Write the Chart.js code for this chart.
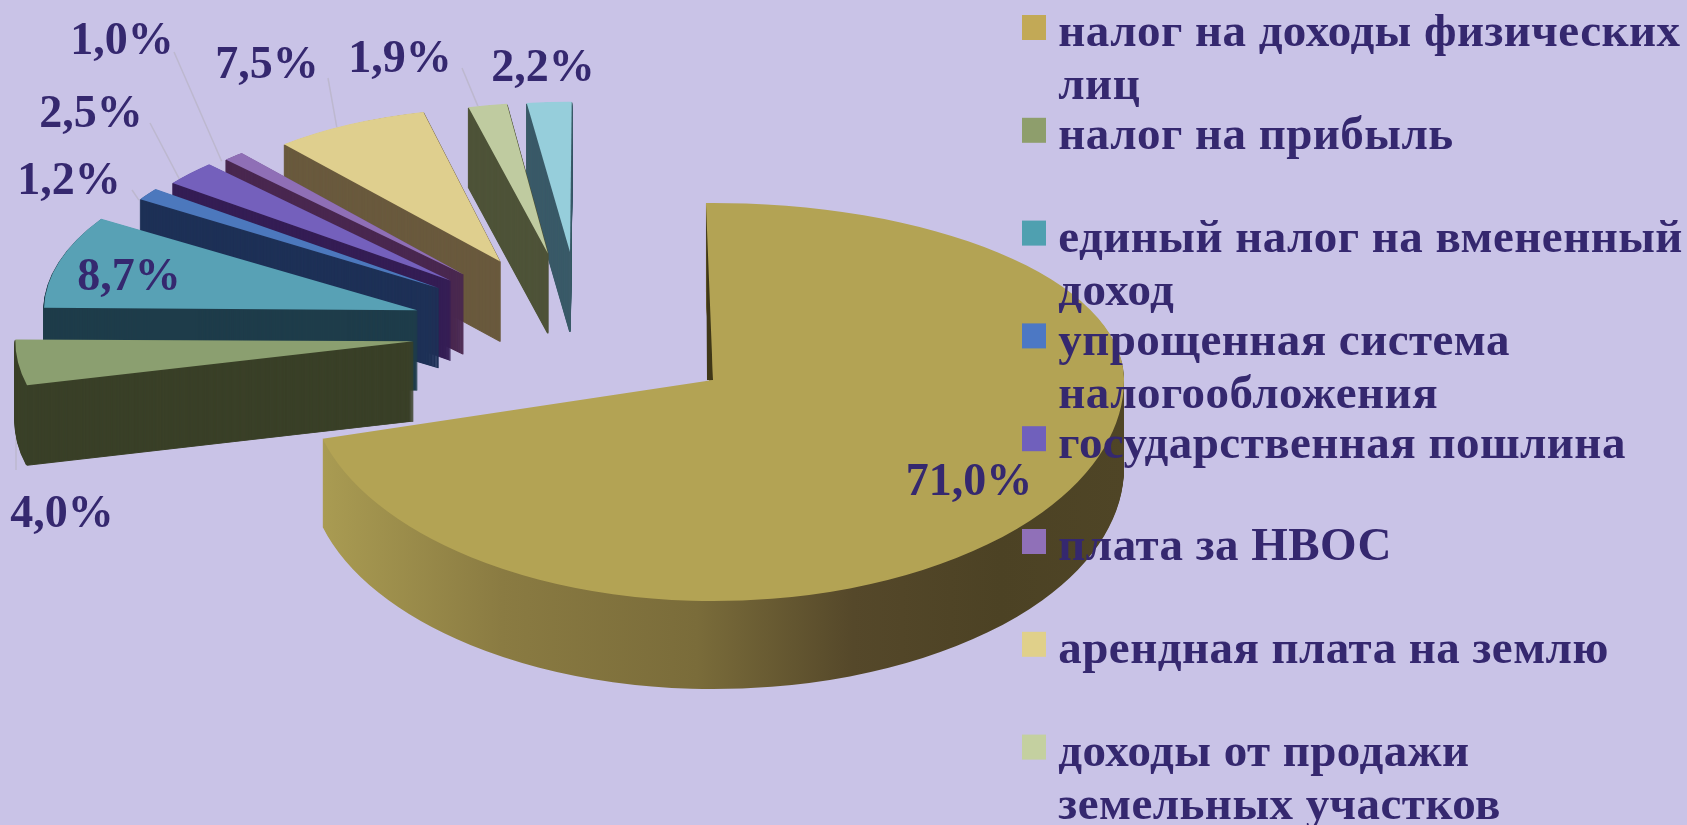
<!DOCTYPE html>
<html>
<head>
<meta charset="utf-8">
<title>Налоговые доходы</title>
<script src="https://cdn.jsdelivr.net/npm/chart.js@4"></script>
<style>
  html, body { margin: 0; background: #c9c3e7; overflow: hidden; }
  canvas { display: block; filter: blur(0.6px); }
</style>
</head>
<body>
<canvas id="pie" width="1687" height="825"></canvas>
<script>
// подписи легенды, по две строки как на слайде
const categories = [
  ["налог на доходы физических", "лиц"],
  ["налог на прибыль", ""],
  ["единый налог на вмененный", "доход"],
  ["упрощенная система", "налогообложения"],
  ["государственная пошлина", ""],
  ["плата за НВОС", ""],
  ["арендная плата на землю", ""],
  ["доходы от продажи", "земельных участков"],
  ["прочие", ""]
];
const shares = [71.0, 4.0, 8.7, 1.2, 2.5, 1.0, 7.5, 1.9, 2.2];
const shareLabels = ["71,0%", "4,0%", "8,7%", "1,2%", "2,5%", "1,0%", "7,5%", "1,9%", "2,2%"];
const legendCount = 8; // девятая строка на слайд не поместилась

const topColors = ["#b3a354", "#8b9f70", "#58a1b5", "#4c78bd", "#7460bc", "#8f6fb6", "#dfcf8e", "#bfcba0", "#96cedb"];
const sideColors = ["#7a6c3a", "#3a4028", "#1f3d4b", "#1e3157", "#351e55", "#4a2850", "#6a5a3e", "#4e5338", "#3a5a68"];
const boxColors = ["#c2a956", "#8e9e6c", "#4fa0b0", "#4c78c4", "#7060bc", "#9070b8", "#e0d08a", "#c4d0a0", "#96cedb"];

// подписи процентов: центр текста и излом выноски (null - без выноски)
const labelPos = [[969, 483], [62, 515], [129, 278], [69, 182], [91, 115], [122, 42], [267, 66], [400, 60], [543, 69]];
const leaderStart = [null, [16, 470], null, [132, 190], [150, 123], [174, 52], [328, 78], [462, 68], null];

const TEXT = "#35286f";
const BIG = { x: 713, y: 380, left: 405, right: 411, up: 177, down: 221, depth: 88 };
const GROUP = { x: 585, y: 330, kx: 173.5, ky: 78.4, depth: 80 };

function withColor(arc, color, border, fn) {
  const saved = arc.options;
  arc.options = Object.create(saved);
  arc.options.backgroundColor = color;
  arc.options.borderColor = color;
  arc.options.borderWidth = border;
  fn();
  arc.options = saved;
}

// большой сектор: четверти эллипса с разными радиусами дают перспективу
function paintBig(ctx, arc, color, dy) {
  const quarters = [[-1, -1, BIG.left, BIG.up], [1, -1, BIG.right, BIG.up], [-1, 1, BIG.left, BIG.down], [1, 1, BIG.right, BIG.down]];
  withColor(arc, color, 0, () => {
    quarters.forEach(([sx, sy, rx, ry]) => {
      ctx.save();
      ctx.beginPath();
      ctx.rect(sx < 0 ? 0 : BIG.x - 0.5, sy < 0 ? 0 : BIG.y + dy - 0.5, sx < 0 ? BIG.x + 0.5 : 1687, sy < 0 ? BIG.y + dy + 0.5 : 825);
      ctx.clip();
      ctx.translate(BIG.x, BIG.y + dy);
      ctx.scale(rx / arc.outerRadius, ry / arc.outerRadius);
      ctx.translate(-arc.x, -arc.y);
      arc.draw(ctx);
      ctx.restore();
    });
  });
}

// тёмная щель вдоль начального ребра большого сектора
function paintGap(ctx, arc) {
  const start = arc.startAngle;
  arc.startAngle = start + 0.015;
  withColor(arc, "#3f3717", 0, () => {
    ctx.save();
    ctx.beginPath();
    ctx.rect(0, 0, BIG.x + 1, BIG.y);
    ctx.clip();
    ctx.translate(BIG.x - 6, BIG.y);
    ctx.scale(BIG.left / arc.outerRadius, BIG.up / arc.outerRadius);
    ctx.translate(-arc.x, -arc.y);
    arc.draw(ctx);
    ctx.restore();
  });
  arc.startAngle = start;
}

// вершина вынесенного сектора и его радиусы
function groupPlace(arc) {
  const mid = (arc.startAngle + arc.endAngle) / 2;
  const x = GROUP.x + Math.cos(mid) * GROUP.kx;
  const y = GROUP.y + Math.sin(mid) * GROUP.ky;
  const rx = 325 + (y - 250) * 0.8;
  return { x, y, rx, ry: rx * 0.46, mid };
}

function paintSmall(ctx, arc, color, dy, border) {
  const p = groupPlace(arc);
  withColor(arc, color, border, () => {
    ctx.save();
    ctx.translate(p.x, p.y + dy);
    ctx.scale(p.rx / arc.outerRadius, p.ry / arc.outerRadius);
    // диагональные секторы в перспективе чуть довёрнуты
    ctx.rotate(0.0175 + 0.03 * Math.abs(Math.sin(2 * p.mid)));
    ctx.translate(-arc.x, -arc.y);
    arc.draw(ctx);
    ctx.restore();
  });
}

function paintLeaders(ctx, arcs) {
  ctx.save();
  ctx.strokeStyle = "#bdb8cf";
  ctx.lineWidth = 1.5;
  leaderStart.forEach((from, i) => {
    if (!from) return;
    const p = groupPlace(arcs[i]);
    ctx.beginPath();
    ctx.moveTo(from[0], from[1]);
    if (i === 1) ctx.lineTo(from[0], 387);
    else ctx.lineTo(p.x + Math.cos(p.mid) * p.rx, p.y + Math.sin(p.mid) * p.ry);
    ctx.stroke();
  });
  ctx.restore();
}

const pie3d = {
  id: "pie3d",
  afterLayout(chart) {
    const legend = chart.legend;
    legend.left = 1037;
    legend.top = 14;
    legend.bottom = 900;
    legend.right = 1687;
  },
  beforeDraw(chart) {
    const ctx = chart.ctx;
    const arcs = chart.getDatasetMeta(0).data;

    paintLeaders(ctx, arcs);

    for (let i = arcs.length - 1; i > 0; i--) {
      for (let d = GROUP.depth; d > 0; d--) paintSmall(ctx, arcs[i], sideColors[i], d, 2);
      paintSmall(ctx, arcs[i], topColors[i], 0, 0);
    }

    const big = arcs[0];
    const R = big.outerRadius;
    const rim = ctx.createLinearGradient(big.x - R, 0, big.x + R, 0);
    rim.addColorStop(0.02, "#a99b52");
    rim.addColorStop(0.24, "#8a7b42");
    rim.addColorStop(0.48, "#7a6c3a");
    rim.addColorStop(0.67, "#55482a");
    rim.addColorStop(0.85, "#4c4224");
    rim.addColorStop(1, "#4f4526");
    for (let d = BIG.depth; d > 0; d--) paintBig(ctx, big, rim, d);

    paintGap(ctx, big);
    paintBig(ctx, big, topColors[0], 0);

    // квадратики легенды лежат поверх пирога
    boxColors.slice(0, legendCount).forEach((c, i) => {
      ctx.fillStyle = c;
      ctx.fillRect(1022, 15 + i * 102.8, 24, 25);
    });

    ctx.letterSpacing = "0.45px";
  },
  beforeDatasetsDraw() {
    return false; // секторы уже нарисованы
  },
  afterDraw(chart) {
    const ctx = chart.ctx;
    ctx.save();
    ctx.letterSpacing = "0px";
    ctx.fillStyle = TEXT;
    ctx.font = "bold 46px 'Liberation Serif'";
    ctx.textAlign = "center";
    ctx.textBaseline = "middle";
    shareLabels.forEach((t, i) => ctx.fillText(t, labelPos[i][0], labelPos[i][1]));
    ctx.restore();
  }
};

new Chart(document.getElementById("pie"), {
  type: "pie",
  data: {
    labels: categories,
    datasets: [{
      data: shares,
      backgroundColor: topColors,
      borderWidth: 0
    }]
  },
  options: {
    responsive: false,
    animation: false,
    rotation: -1,
    plugins: {
      tooltip: { enabled: false },
      legend: {
        position: "right",
        align: "start",
        labels: {
          color: TEXT,
          font: { family: "'Liberation Serif'", size: 47, weight: "bold", lineHeight: 53 / 47 },
          padding: -3.2,
          boxWidth: 1,
          boxHeight: 1,
          generateLabels: () => categories.slice(0, legendCount).map((lines, i) => ({
            text: lines,
            fillStyle: "rgba(0,0,0,0)",
            strokeStyle: "rgba(0,0,0,0)",
            lineWidth: 0,
            fontColor: TEXT,
            index: i
          }))
        }
      }
    }
  },
  plugins: [pie3d]
});
</script>
</body>
</html>
